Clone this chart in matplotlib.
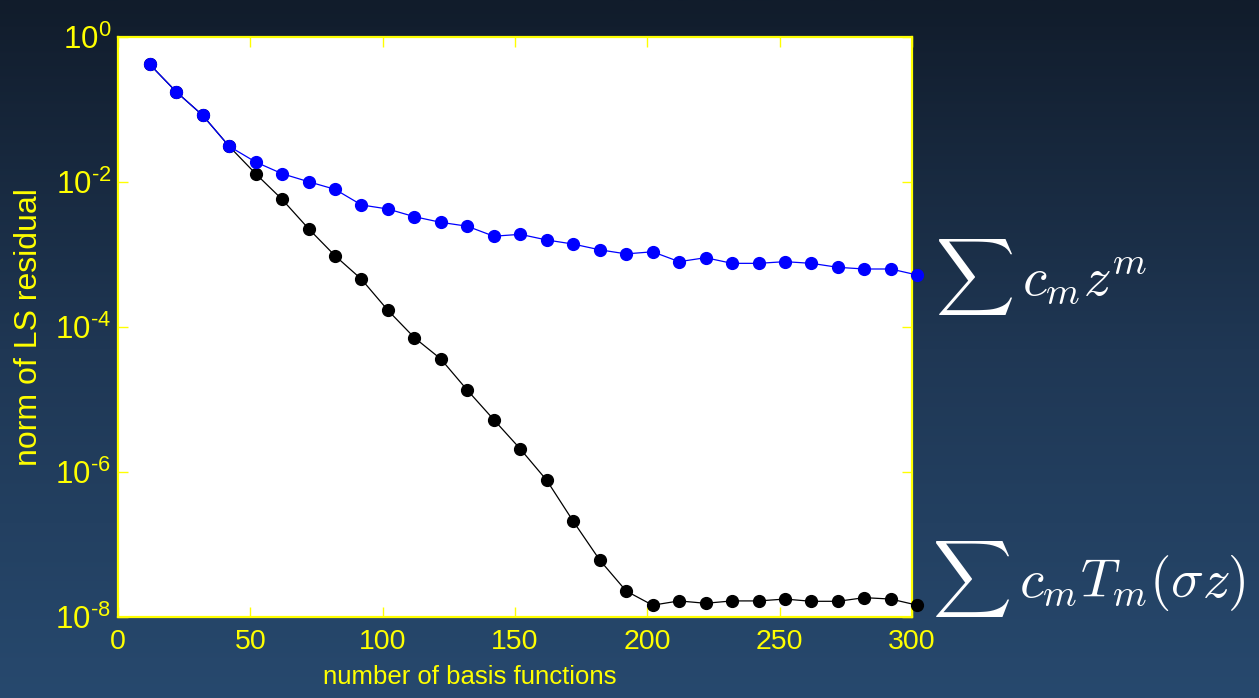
import numpy as np
import matplotlib
matplotlib.use("Agg")
import matplotlib.pyplot as plt
from matplotlib.colors import LinearSegmentedColormap
from matplotlib.ticker import FixedLocator, NullLocator

# ── data ───────────────────────────────────────────────────────────────────
n_basis = np.arange(12, 303, 10)

resid_monomial = [4.16e-1, 1.74e-1, 8.24e-2, 3.08e-2, 1.87e-2, 1.29e-2,
                  1.00e-2, 7.85e-3, 4.78e-3, 4.20e-3, 3.29e-3, 2.75e-3,
                  2.43e-3, 1.77e-3, 1.88e-3, 1.57e-3, 1.38e-3, 1.15e-3,
                  1.01e-3, 1.08e-3, 7.89e-4, 8.95e-4, 7.48e-4, 7.48e-4,
                  7.89e-4, 7.48e-4, 6.59e-4, 6.25e-4, 6.25e-4, 5.16e-4]

resid_cheb = [4.16e-1, 1.74e-1, 8.24e-2, 3.08e-2, 1.29e-2, 5.71e-3,
              2.25e-3, 9.53e-4, 4.51e-4, 1.68e-4, 7.05e-5, 3.58e-5,
              1.33e-5, 5.21e-6, 2.06e-6, 7.60e-7, 2.07e-7, 6.05e-8,
              2.26e-8, 1.44e-8, 1.65e-8, 1.53e-8, 1.65e-8, 1.65e-8,
              1.75e-8, 1.63e-8, 1.63e-8, 1.83e-8, 1.75e-8, 1.44e-8]

x_ticks = [0, 50, 100, 150, 200, 250, 300]
y_exps = [0, -2, -4, -6, -8]

# ── style ──────────────────────────────────────────────────────────────────
YEL = "#ffff00"
plt.rcParams["font.family"] = ["Liberation Sans", "DejaVu Sans"]
plt.rcParams["mathtext.fontset"] = "custom"
plt.rcParams["mathtext.rm"] = "Liberation Sans"


def exp_label(e):
    # plain hyphen in the exponent, as on the slide
    s = r"\text{-}%d" % abs(e) if e < 0 else "%d" % e
    return r"$\mathregular{10^{%s}}$" % s


fig = plt.figure(figsize=(12.59, 6.98), dpi=100)

# slide-style vertical gradient behind everything
bg = fig.add_axes([0, 0, 1, 1], zorder=-10)
grad = np.linspace(0, 1, 256).reshape(-1, 1)
cmap = LinearSegmentedColormap.from_list("slide", ["#111c2b", "#1f3754", "#27496e"])
bg.imshow(grad, aspect="auto", cmap=cmap, extent=[0, 1, 0, 1], origin="upper")
bg.set_axis_off()

ax = fig.add_axes([0.0937, 0.1165, 0.6307, 0.8309])
ax.set_facecolor("white")

ax.plot(n_basis, resid_cheb, "-o", color="black", lw=0.9, ms=8.5,
        clip_on=False, zorder=3)
ax.plot(n_basis, resid_monomial, "-o", color="#0000ff", lw=0.9, ms=8.5,
        clip_on=False, zorder=4)

ax.set_yscale("log")
ax.set_xlim(0, 300)
ax.set_ylim(1e-8, 1e0)

ax.xaxis.set_major_locator(FixedLocator(x_ticks))
ax.set_xticklabels([str(t) for t in x_ticks])
ax.yaxis.set_major_locator(FixedLocator([10.0 ** e for e in y_exps]))
ax.yaxis.set_minor_locator(NullLocator())
ax.set_yticklabels([exp_label(e) for e in y_exps])

ax.tick_params(axis="both", which="major", direction="in", length=7, width=1,
               color=YEL, labelcolor=YEL, top=True, right=True)
ax.tick_params(axis="x", labelsize=20.5, pad=9)
ax.tick_params(axis="y", labelsize=22.5, pad=5)

for sp in ax.spines.values():
    sp.set_color(YEL)
    sp.set_linewidth(1.6)

ax.set_xlabel("number of basis functions", color=YEL, fontsize=18.5)
ax.xaxis.set_label_coords(0.443, -0.083)
ax.set_ylabel("norm of LS residual", color=YEL, fontsize=23, labelpad=8)

# series labels to the right of the axes
fig.text(0.743, 0.603, r"$\sum\, c_m z^m$", color="white", fontsize=39.5,
         math_fontfamily="cm", va="center", ha="left")
fig.text(0.740, 0.170, r"$\sum\, c_m T_m(\sigma z)$", color="white", fontsize=39.5,
         math_fontfamily="cm", va="center", ha="left")

fig.savefig("out.png", dpi=100)
